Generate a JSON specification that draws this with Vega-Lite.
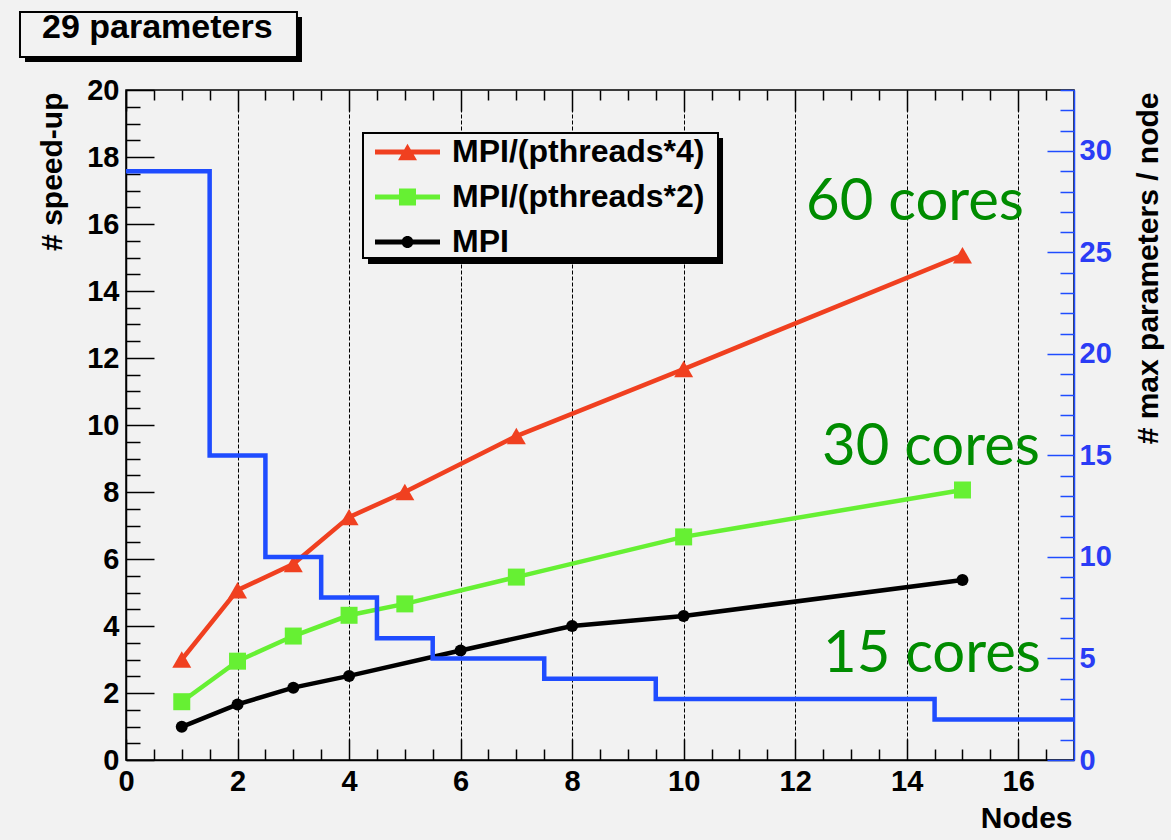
{
  "$schema": "https://vega.github.io/schema/vega-lite/v6.json",
  "width": 948,
  "height": 670,
  "autosize": "none",
  "padding": {"left": 126, "top": 90, "right": 97, "bottom": 80},
  "background": "#f2f2f2",
  "config": {"view": {"stroke": "black", "strokeWidth": 1.5}, "font": "Liberation Sans"},
  "datasets": {
    "speedup": [
      {"series": "MPI/(pthreads*4)", "nodes": 1, "speedup": 3.0},
      {"series": "MPI/(pthreads*4)", "nodes": 2, "speedup": 5.07},
      {"series": "MPI/(pthreads*4)", "nodes": 3, "speedup": 5.85},
      {"series": "MPI/(pthreads*4)", "nodes": 4, "speedup": 7.25},
      {"series": "MPI/(pthreads*4)", "nodes": 5, "speedup": 8.0},
      {"series": "MPI/(pthreads*4)", "nodes": 7, "speedup": 9.67},
      {"series": "MPI/(pthreads*4)", "nodes": 10, "speedup": 11.67},
      {"series": "MPI/(pthreads*4)", "nodes": 15, "speedup": 15.07},
      {"series": "MPI/(pthreads*2)", "nodes": 1, "speedup": 1.74},
      {"series": "MPI/(pthreads*2)", "nodes": 2, "speedup": 2.95},
      {"series": "MPI/(pthreads*2)", "nodes": 3, "speedup": 3.7},
      {"series": "MPI/(pthreads*2)", "nodes": 4, "speedup": 4.32},
      {"series": "MPI/(pthreads*2)", "nodes": 5, "speedup": 4.66},
      {"series": "MPI/(pthreads*2)", "nodes": 7, "speedup": 5.46},
      {"series": "MPI/(pthreads*2)", "nodes": 10, "speedup": 6.66},
      {"series": "MPI/(pthreads*2)", "nodes": 15, "speedup": 8.06},
      {"series": "MPI", "nodes": 1, "speedup": 0.99},
      {"series": "MPI", "nodes": 2, "speedup": 1.66},
      {"series": "MPI", "nodes": 3, "speedup": 2.16},
      {"series": "MPI", "nodes": 4, "speedup": 2.51},
      {"series": "MPI", "nodes": 6, "speedup": 3.27},
      {"series": "MPI", "nodes": 8, "speedup": 4.0},
      {"series": "MPI", "nodes": 10, "speedup": 4.3},
      {"series": "MPI", "nodes": 15, "speedup": 5.37}
    ],
    "params": [
      {"nodes": 0, "maxpar": 29},
      {"nodes": 1.5, "maxpar": 15},
      {"nodes": 2.5, "maxpar": 10},
      {"nodes": 3.5, "maxpar": 8},
      {"nodes": 4.5, "maxpar": 6},
      {"nodes": 5.5, "maxpar": 5},
      {"nodes": 7.5, "maxpar": 4},
      {"nodes": 9.5, "maxpar": 3},
      {"nodes": 14.5, "maxpar": 2},
      {"nodes": 17, "maxpar": 2}
    ]
  },
  "resolve": {"scale": {"y": "independent"}, "axis": {"x": "independent"}},
  "layer": [
    {
      "data": {"values": [{}]},
      "mark": {"type": "rect", "fill": "black"},
      "encoding": {
        "x": {"datum": -1.811, "type": "quantitative", "scale": {"domain": [0, 17], "nice": false}, "axis": null},
        "x2": {"datum": 3.156},
        "y": {"datum": 22.179, "type": "quantitative", "scale": {"domain": [0, 20], "nice": false}, "axis": null},
        "y2": {"datum": 20.836}
      }
    },
    {
      "data": {"values": [{}]},
      "mark": {"type": "rect", "fill": "#f2f2f2", "stroke": "black", "strokeWidth": 2},
      "encoding": {
        "x": {"datum": -1.901, "type": "quantitative", "axis": null},
        "x2": {"datum": 3.066},
        "y": {"datum": 22.328, "type": "quantitative", "scale": {"domain": [0, 20], "nice": false}, "axis": null},
        "y2": {"datum": 20.985}
      }
    },
    {
      "data": {"values": [{}]},
      "mark": {"type": "text", "text": "29 parameters", "align": "left", "baseline": "alphabetic", "font": "Liberation Sans", "fontWeight": "bold", "fontSize": 34, "color": "black"},
      "encoding": {
        "x": {"datum": -1.506, "type": "quantitative", "axis": null},
        "y": {"datum": 21.55, "type": "quantitative", "scale": {"domain": [0, 20], "nice": false}, "axis": null}
      }
    },
    {
      "data": {"name": "speedup"},
      "transform": [{"filter": "datum.series === 'MPI/(pthreads*2)'"}],
      "mark": {"type": "line", "color": "#66f033", "strokeWidth": 4.5, "point": {"filled": true, "shape": "square", "size": 289, "color": "#66f033"}},
      "encoding": {
        "x": {
          "field": "nodes", "type": "quantitative",
          "axis": {
            "orient": "top",
            "values": [0,0.5,1,1.5,2,2.5,3,3.5,4,4.5,5,5.5,6,6.5,7,7.5,8,8.5,9,9.5,10,10.5,11,11.5,12,12.5,13,13.5,14,14.5,15,15.5,16,16.5],
            "labels": false,
            "domain": false,
            "grid": true,
            "gridColor": "black",
            "gridDash": [4, 2],
            "gridWidth": 1,
            "gridOpacity": {"condition": {"test": "datum.value % 2 === 0 && datum.value > 0", "value": 1}, "value": 0},
            "tickSize": {"condition": {"test": "datum.value % 2 === 0", "value": -21}, "value": -10},
            "tickColor": "black",
            "tickWidth": 1.5,
            "title": null
          }
        },
        "y": {"field": "speedup", "type": "quantitative", "scale": {"domain": [0, 20], "nice": false}, "axis": null}
      }
    },
    {
      "data": {"values": [{}]},
      "mark": {"type": "rect", "fill": "black"},
      "encoding": {
        "x": {"datum": 4.34, "type": "quantitative", "axis": null},
        "x2": {"datum": 10.706},
        "y": {"datum": 18.567, "type": "quantitative", "scale": {"domain": [0, 20], "nice": false}, "axis": null},
        "y2": {"datum": 14.806}
      }
    },
    {
      "data": {"values": [{}]},
      "mark": {"type": "rect", "fill": "#f2f2f2", "stroke": "black", "strokeWidth": 2},
      "encoding": {
        "x": {"datum": 4.25, "type": "quantitative", "axis": null},
        "x2": {"datum": 10.616},
        "y": {"datum": 18.716, "type": "quantitative", "scale": {"domain": [0, 20], "nice": false}, "axis": null},
        "y2": {"datum": 14.985}
      }
    },
    {
      "data": {"name": "speedup"},
      "transform": [{"filter": "datum.series === 'MPI/(pthreads*4)'"}],
      "mark": {"type": "line", "color": "#f04020", "strokeWidth": 4.5, "point": {"filled": true, "shape": "triangle-up", "size": 361, "color": "#f04020"}},
      "encoding": {
        "x": {"field": "nodes", "type": "quantitative", "axis": null},
        "y": {"field": "speedup", "type": "quantitative", "scale": {"domain": [0, 20], "nice": false}, "axis": null}
      }
    },
    {
      "data": {"name": "speedup"},
      "transform": [{"filter": "datum.series === 'MPI'"}],
      "mark": {"type": "line", "color": "black", "strokeWidth": 4.5, "point": {"filled": true, "shape": "circle", "size": 144, "color": "black"}},
      "encoding": {
        "x": {"field": "nodes", "type": "quantitative", "axis": null},
        "y": {
          "field": "speedup", "type": "quantitative",
          "scale": {"domain": [0, 20], "nice": false},
          "axis": {
            "orient": "right",
            "offset": -948,
            "values": [0,0.5,1,1.5,2,2.5,3,3.5,4,4.5,5,5.5,6,6.5,7,7.5,8,8.5,9,9.5,10,10.5,11,11.5,12,12.5,13,13.5,14,14.5,15,15.5,16,16.5,17,17.5,18,18.5,19,19.5,20],
            "labels": false,
            "domain": false,
            "grid": false,
            "tickSize": {"condition": {"test": "datum.value % 2 === 0", "value": 28}, "value": 14},
            "tickColor": "black",
            "tickWidth": 1.5,
            "title": null
          }
        }
      }
    },
    {
      "data": {"name": "speedup"},
      "mark": {"type": "point", "filled": true, "opacity": 0, "size": 400},
      "encoding": {
        "x": {
          "field": "nodes", "type": "quantitative",
          "scale": {"domain": [0, 17], "nice": false},
          "axis": {
            "orient": "bottom",
            "values": [0,2,4,6,8,10,12,14,16],
            "format": "d",
            "labelOverlap": false,
            "labelFlush": false,
            "ticks": true,
            "tickSize": -21,
            "tickColor": "#000000",
            "tickWidth": 1.5,
            "domainColor": "#000000",
            "domainWidth": 1.5,
            "grid": false,
            "labelFont": "Liberation Sans",
            "labelFontWeight": "bold",
            "labelFontSize": 29,
            "labelColor": "black",
            "labelPadding": 28,
            "title": "Nodes",
            "titleFont": "Liberation Sans",
            "titleFontWeight": "bold",
            "titleFontSize": 30,
            "titleColor": "black",
            "titleX": 946,
            "titleY": 67,
            "titleAlign": "right",
            "titleBaseline": "alphabetic"
          }
        },
        "y": {
          "field": "speedup", "type": "quantitative",
          "scale": {"domain": [0, 20], "nice": false},
          "axis": {
            "orient": "left",
            "values": [0,2,4,6,8,10,12,14,16,18,20],
            "format": "d",
            "labelOverlap": false,
            "labelFlush": false,
            "ticks": false,
            "tickSize": 0,
            "domainColor": "#000000",
            "domainWidth": 1.5,
            "grid": false,
            "labelFont": "Liberation Sans",
            "labelFontWeight": "bold",
            "labelFontSize": 29,
            "labelColor": "black",
            "labelPadding": 7,
            "title": "# speed-up",
            "titleFont": "Liberation Sans",
            "titleFontWeight": "bold",
            "titleFontSize": 30,
            "titleColor": "black",
            "titleAngle": 270,
            "titleX": -74,
            "titleY": 2,
            "titleAlign": "right",
            "titleBaseline": "middle"
          }
        },
        "color": {
          "field": "series", "type": "nominal",
          "scale": {"domain": ["MPI/(pthreads*4)", "MPI/(pthreads*2)", "MPI"], "range": ["#f04020", "#66f033", "#000000"]},
          "legend": {
            "orient": "none", "legendX": 243, "legendY": 46, "title": null,
            "padding": 0,
            "labelFont": "Liberation Sans", "labelFontWeight": "bold", "labelFontSize": 32, "labelColor": "black",
            "labelOffset": 51, "symbolSize": 400, "rowPadding": 13, "labelLimit": 0, "zindex": 2,
            "symbolStrokeWidth": 0, "symbolOpacity": 1
          }
        },
        "shape": {
          "field": "series", "type": "nominal",
          "scale": {
            "domain": ["MPI/(pthreads*4)", "MPI/(pthreads*2)", "MPI"],
            "range": [
              "M-1,-0.25L5.5,-0.25L5.5,0.25L-1,0.25Z M2.25,-0.82L3.2,0.82L1.3,0.82Z",
              "M-1,-0.25L5.5,-0.25L5.5,0.25L-1,0.25Z M1.4,-0.85L3.1,-0.85L3.1,0.85L1.4,0.85Z",
              "M-1,-0.25L5.5,-0.25L5.5,0.25L-1,0.25Z M1.65,0A0.6,0.6,0,1,1,2.85,0A0.6,0.6,0,1,1,1.65,0Z"
            ]
          },
          "legend": {
            "orient": "none", "legendX": 243, "legendY": 46, "title": null,
            "padding": 0,
            "labelFont": "Liberation Sans", "labelFontWeight": "bold", "labelFontSize": 32, "labelColor": "black",
            "labelOffset": 51, "symbolSize": 400, "rowPadding": 13, "labelLimit": 0, "zindex": 2,
            "symbolStrokeWidth": 0, "symbolOpacity": 1
          }
        }
      }
    },
    {
      "data": {"values": [{}]},
      "mark": {"type": "text", "text": "60 cores", "align": "center", "baseline": "alphabetic", "font": "Lato", "fontSize": 58, "color": "#008c00"},
      "encoding": {
        "x": {"datum": 14.149, "type": "quantitative", "axis": null},
        "y": {"datum": 16.12, "type": "quantitative", "scale": {"domain": [0, 20], "nice": false}, "axis": null}
      }
    },
    {
      "data": {"values": [{}]},
      "mark": {"type": "text", "text": "30 cores", "align": "center", "baseline": "alphabetic", "font": "Lato", "fontSize": 58, "color": "#008c00"},
      "encoding": {
        "x": {"datum": 14.435, "type": "quantitative", "axis": null},
        "y": {"datum": 8.806, "type": "quantitative", "scale": {"domain": [0, 20], "nice": false}, "axis": null}
      }
    },
    {
      "data": {"values": [{}]},
      "mark": {"type": "text", "text": "15 cores", "align": "center", "baseline": "alphabetic", "font": "Lato", "fontSize": 58, "color": "#008c00"},
      "encoding": {
        "x": {"datum": 14.453, "type": "quantitative", "axis": null},
        "y": {"datum": 2.627, "type": "quantitative", "scale": {"domain": [0, 20], "nice": false}, "axis": null}
      }
    },
    {
      "data": {"name": "params"},
      "mark": {"type": "line", "color": "#1f4cff", "strokeWidth": 4.5, "interpolate": "step-after"},
      "encoding": {
        "x": {
          "field": "nodes", "type": "quantitative",
          "axis": {
            "orient": "top",
            "offset": -670,
            "values": [0.5,1,1.5,2.5,3,3.5,4.5,5,5.5,6.5,7,7.5,8.5,9,9.5,10.5,11,11.5,12.5,13,13.5,14.5,15,15.5,16.5],
            "labels": false,
            "domain": false,
            "grid": false,
            "tickSize": 11,
            "tickColor": "#000000",
            "tickWidth": 1.5,
            "title": null
          }
        },
        "y": {
          "field": "maxpar", "type": "quantitative",
          "scale": {"domain": [0, 33], "nice": false},
          "axis": {
            "orient": "right",
            "values": [0,1,2,3,4,5,6,7,8,9,10,11,12,13,14,15,16,17,18,19,20,21,22,23,24,25,26,27,28,29,30,31,32,33],
            "labelExpr": "datum.value % 5 === 0 ? datum.label : ''",
            "labelOverlap": false,
            "labelFlush": false,
            "tickSize": {"condition": {"test": "datum.value % 5 === 0", "value": -27}, "value": -14},
            "tickColor": "#1f4cff",
            "tickWidth": 1.5,
            "domainColor": "#1f4cff",
            "domainWidth": 1.5,
            "grid": false,
            "labelFont": "Liberation Sans",
            "labelFontWeight": "bold",
            "labelFontSize": 29,
            "labelColor": "#2a3cf5",
            "labelPadding": 32,
            "title": "# max parameters / node",
            "titleFont": "Liberation Sans",
            "titleFontWeight": "bold",
            "titleFontSize": 30,
            "titleColor": "black",
            "titleAngle": 270,
            "titleX": 74,
            "titleY": 2,
            "titleAlign": "right",
            "titleBaseline": "middle"
          }
        }
      }
    }
  ]
}
